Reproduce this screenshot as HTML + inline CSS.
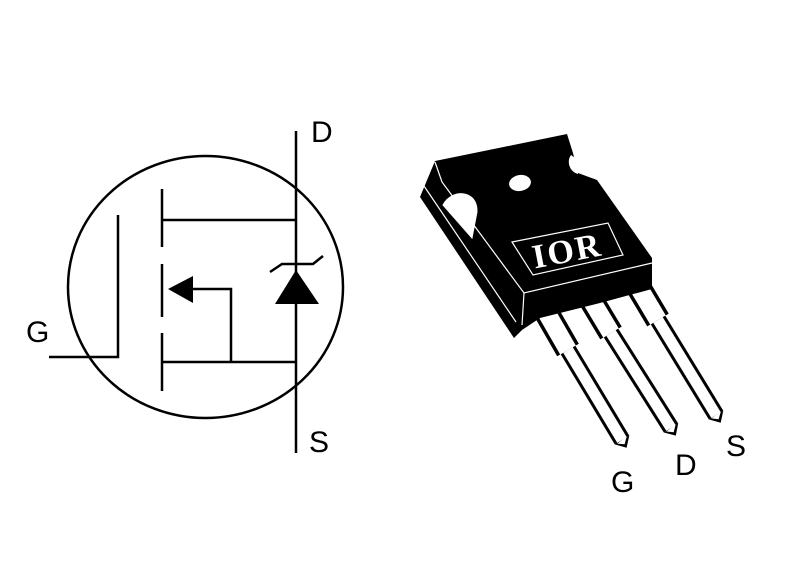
<!DOCTYPE html>
<html><head><meta charset="utf-8"><style>
html,body{margin:0;padding:0;background:#fff;}
svg{display:block;}
text{font-family:"Liberation Sans",sans-serif;}
</style></head><body>
<svg width="790" height="579" viewBox="0 0 790 579" xmlns="http://www.w3.org/2000/svg">
<rect width="790" height="579" fill="#fff"/>
<!-- MOSFET symbol -->
<g stroke="#000" stroke-width="2.5" fill="none">
<ellipse cx="205.5" cy="287" rx="137.5" ry="131"/>
<line x1="296" y1="131" x2="296" y2="453"/>
<polyline points="49,357 118,357 118,215"/>
<line x1="162" y1="189" x2="162" y2="247"/>
<line x1="162" y1="264" x2="162" y2="317"/>
<line x1="162" y1="333" x2="162" y2="391"/>
<line x1="162" y1="220" x2="296" y2="220"/>
<line x1="162" y1="362" x2="296" y2="362"/>
<polyline points="190,289 231,289 231,362"/>
<polyline points="270,272 282,264 313,264 323,256"/>
</g>
<polygon points="168,289 193,276 193,303" fill="#000"/>
<polygon points="296,270 275,304 319,304" fill="#000"/>
<text x="311" y="142" font-size="30">D</text>
<text x="309" y="452" font-size="30">S</text>
<text x="26" y="342" font-size="30">G</text>
<!-- Leads -->
<g stroke-linejoin="miter" stroke-linecap="butt" fill="none">
<polyline points="545,310 568,350" stroke="#000" stroke-width="25"/>
<polyline points="568,350 622,440" stroke="#000" stroke-width="17"/>
<polyline points="590,298 611,333" stroke="#000" stroke-width="25"/>
<polyline points="611,333 671,428" stroke="#000" stroke-width="17"/>
<polyline points="636,283 658,320" stroke="#000" stroke-width="25"/>
<polyline points="658,320 716,415" stroke="#000" stroke-width="17"/>
</g>
<g fill="#000">
<polygon points="629.3,435.6 626.6,447.7 614.7,444.4"/>
<polygon points="678.2,423.5 675.8,435.6 663.8,432.5"/>
<polygon points="723.3,410.6 720.7,422.7 708.7,419.4"/>
</g>
<g stroke-linejoin="miter" stroke-linecap="butt" fill="none">
<polyline points="545,310 568,350" stroke="#fff" stroke-width="18"/>
<polyline points="568,350 622,440" stroke="#fff" stroke-width="11"/>
<polyline points="590,298 611,333" stroke="#fff" stroke-width="18"/>
<polyline points="611,333 671,428" stroke="#fff" stroke-width="11"/>
<polyline points="636,283 658,320" stroke="#fff" stroke-width="18"/>
<polyline points="658,320 716,415" stroke="#fff" stroke-width="11"/>
</g>
<g fill="#fff">
<polygon points="626.7,436.4 624.6,444.3 617.3,443.6"/>
<polygon points="675.6,424.5 673.7,432.2 666.4,431.5"/>
<polygon points="720.8,411.6 718.6,419.3 711.2,418.4"/>
</g>
<!-- Body -->
<polygon points="435,161 567,134 573,153 578,173 597,180 652,258 652,289 600,303 540,318 522,330 514,338 420,197" fill="#000"/>
<g stroke="#fff" stroke-width="1.2" fill="none">
<polyline points="435,162 442,182 524,293 652,263"/>
<line x1="424" y1="186" x2="516" y2="322"/>
<line x1="524" y1="293" x2="522" y2="325"/>
<polygon points="512,242 608,223 623,255 533,275"/>
</g>
<path d="M443,205 C452,188 478,190 477,212 L472,238 Z" fill="#fff" stroke="#fff" stroke-width="1"/>
<ellipse cx="520" cy="183" rx="11" ry="8" fill="#fff" transform="rotate(-10 520 183)"/>
<path d="M571,155 C566,162 570,172 578,174 L578,160 Z" fill="#fff"/>
<text x="567" y="262" font-size="34" font-weight="bold" fill="#fff" text-anchor="middle" letter-spacing="2" transform="rotate(-11 567 250)" style="font-family:'Liberation Serif',serif">IOR</text>
<!-- Lead labels -->
<text x="611" y="492" font-size="30">G</text>
<text x="675" y="475" font-size="30">D</text>
<text x="726" y="456" font-size="30">S</text>
</svg>
</body></html>
